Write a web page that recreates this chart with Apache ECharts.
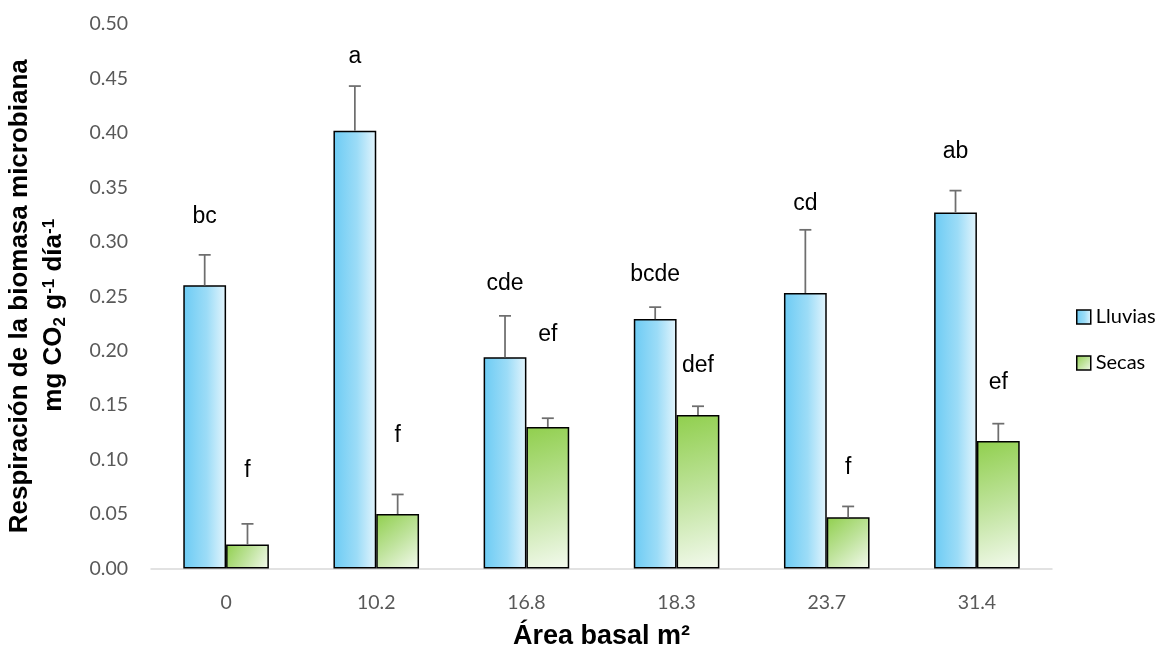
<!DOCTYPE html>
<html>
<head>
<meta charset="utf-8">
<script src="https://cdn.jsdelivr.net/npm/echarts@6/dist/echarts.min.js"></script>
<style>
  html, body { margin: 0; padding: 0; background: #fff; }
  #chart { width: 1159px; height: 647px; }
</style>
</head>
<body>
<div id="chart"></div>
<script>
// Basal area classes (m²)
const categories = ['0', '10.2', '16.8', '18.3', '23.7', '31.4'];

// Microbial biomass respiration (mg CO2 g-1 day-1), mean and standard error
const lluvias = [0.260, 0.402, 0.194, 0.229, 0.253, 0.327];
const lluviasErr = [0.028, 0.041, 0.038, 0.011, 0.058, 0.020];
const secas = [0.022, 0.050, 0.130, 0.141, 0.047, 0.117];
const secasErr = [0.019, 0.018, 0.008, 0.008, 0.010, 0.016];

// Significance letters and the level (axis units) where each one sits
const lluviasLetters = ['bc', 'a', 'cde', 'bcde', 'cd', 'ab'];
const lluviasLetterAt = [0.323, 0.470, 0.262, 0.270, 0.335, 0.383];
const secasLetters = ['f', 'f', 'ef', 'def', 'f', 'ef'];
const secasLetterAt = [0.090, 0.122, 0.215, 0.186, 0.093, 0.171];

// Value axis
const yMin = 0;
const yMax = 0.5;
const yStep = 0.05;

const CATEGORY_GAP = 0.43;
const tickFont = 'Lato, "Open Sans", sans-serif';
const titleFont = '"Liberation Sans", Arial, sans-serif';

function blueFill() {
  return new echarts.graphic.LinearGradient(0, 0, 1, 0, [
    { offset: 0, color: '#6ccbf4' },
    { offset: 0.55, color: '#9cdcf7' },
    { offset: 1, color: '#e4f5fd' }
  ]);
}
function greenFill() {
  return new echarts.graphic.LinearGradient(0, 0, 1, 1, [
    { offset: 0, color: '#90cf4d' },
    { offset: 0.5, color: '#bfe39c' },
    { offset: 1, color: '#f4faef' }
  ]);
}

// Upper error whisker plus the significance letter of each bar
function whiskerSeries(name, values, errors, letters, letterAt, side) {
  return {
    type: 'custom',
    name: name,
    z: 5,
    silent: true,
    encode: { x: 0, y: 1 },
    data: values.map((v, i) => [i, v, errors[i], letterAt[i]]),
    renderItem: function (params, api) {
      const idx = api.value(0);
      const band = api.size([1, 0])[0];
      const barW = band * (1 - CATEGORY_GAP) / 2;
      const cx = api.coord([idx, 0])[0] + side * barW / 2;
      const yTop = api.coord([idx, api.value(1)])[1];
      const yErr = api.coord([idx, api.value(1) + api.value(2)])[1];
      const yLetter = api.coord([idx, api.value(3)])[1];
      const stroke = { stroke: '#6e6e6e', lineWidth: 1.75 };
      return {
        type: 'group',
        children: [
          { type: 'line', shape: { x1: cx, y1: yTop, x2: cx, y2: yErr }, style: stroke },
          { type: 'line', shape: { x1: cx - 6, y1: yErr, x2: cx + 6, y2: yErr }, style: stroke },
          {
            type: 'text',
            style: {
              text: letters[params.dataIndex],
              x: cx,
              y: yLetter,
              align: 'center',
              verticalAlign: 'middle',
              fontSize: 23,
              fontFamily: titleFont,
              fill: '#000'
            }
          }
        ]
      };
    }
  };
}

const chart = echarts.init(document.getElementById('chart'), null, { renderer: 'canvas' });

chart.setOption({
  animation: false,
  backgroundColor: '#fff',
  grid: { left: 151, right: 107, top: 24, bottom: 78.5, containLabel: false, outerBoundsMode: 'none' },
  legend: {
    data: ['Lluvias', 'Secas'],
    orient: 'vertical',
    left: 1071,
    top: 302,
    itemWidth: 14,
    itemHeight: 14,
    itemGap: 26,
    icon: 'rect',
    itemStyle: { borderColor: '#000', borderWidth: 1.5 },
    textStyle: { fontFamily: tickFont, fontSize: 20, color: '#000', lineHeight: 20 }
  },
  xAxis: {
    type: 'category',
    data: categories,
    name: 'Área basal m²',
    nameLocation: 'middle',
    nameGap: 55,
    nameMoveOverlap: false,
    nameTextStyle: { fontFamily: titleFont, fontWeight: 'bold', fontSize: 27, color: '#000' },
    axisLine: { lineStyle: { color: '#d9d9d9', width: 1.5 } },
    axisTick: { show: false },
    axisLabel: { fontFamily: tickFont, fontSize: 19.5, color: '#595959', margin: 24 }
  },
  yAxis: {
    type: 'value',
    min: yMin,
    max: yMax,
    interval: yStep,
    name: '{a|Respiración de la biomasa microbiana}\n{a|mg CO}{sub|2}{a| g}{sup|-1}{a| día}{supEnd|-1}',
    nameLocation: 'middle',
    nameRotate: 90,
    nameGap: 80,
    nameMoveOverlap: false,
    nameTextStyle: {
      fontFamily: titleFont,
      fontWeight: 'bold',
      fontSize: 26,
      color: '#000',
      lineHeight: 34,
      rich: {
        a: { fontFamily: titleFont, fontWeight: 'bold', fontSize: 26, lineHeight: 34, color: '#000' },
        sub: { fontFamily: titleFont, fontWeight: 'bold', fontSize: 17, lineHeight: 16, verticalAlign: 'bottom', color: '#000', padding: [0, 0, 2, 0] },
        sup: { fontFamily: titleFont, fontWeight: 'bold', fontSize: 17, lineHeight: 16, verticalAlign: 'top', color: '#000', padding: [4, 0, 0, 0] },
        supEnd: { fontFamily: titleFont, fontWeight: 'bold', fontSize: 17, lineHeight: 16, verticalAlign: 'top', color: '#000', padding: [4, 38, 0, 0] }
      }
    },
    axisLine: { show: false },
    axisTick: { show: false },
    splitLine: { show: false },
    axisLabel: {
      fontFamily: tickFont,
      fontSize: 19.5,
      color: '#595959',
      margin: 23,
      formatter: v => v.toFixed(2)
    }
  },
  series: [
    {
      type: 'bar',
      name: 'Lluvias',
      data: lluvias,
      barGap: '0%',
      barCategoryGap: (CATEGORY_GAP * 100) + '%',
      itemStyle: { color: blueFill(), borderColor: '#000', borderWidth: 1.5 }
    },
    {
      type: 'bar',
      name: 'Secas',
      data: secas,
      barGap: '0%',
      barCategoryGap: (CATEGORY_GAP * 100) + '%',
      itemStyle: { color: greenFill(), borderColor: '#000', borderWidth: 1.5 }
    },
    whiskerSeries('Lluvias EE', lluvias, lluviasErr, lluviasLetters, lluviasLetterAt, -1),
    whiskerSeries('Secas EE', secas, secasErr, secasLetters, secasLetterAt, 1)
  ]
});
</script>
</body>
</html>
